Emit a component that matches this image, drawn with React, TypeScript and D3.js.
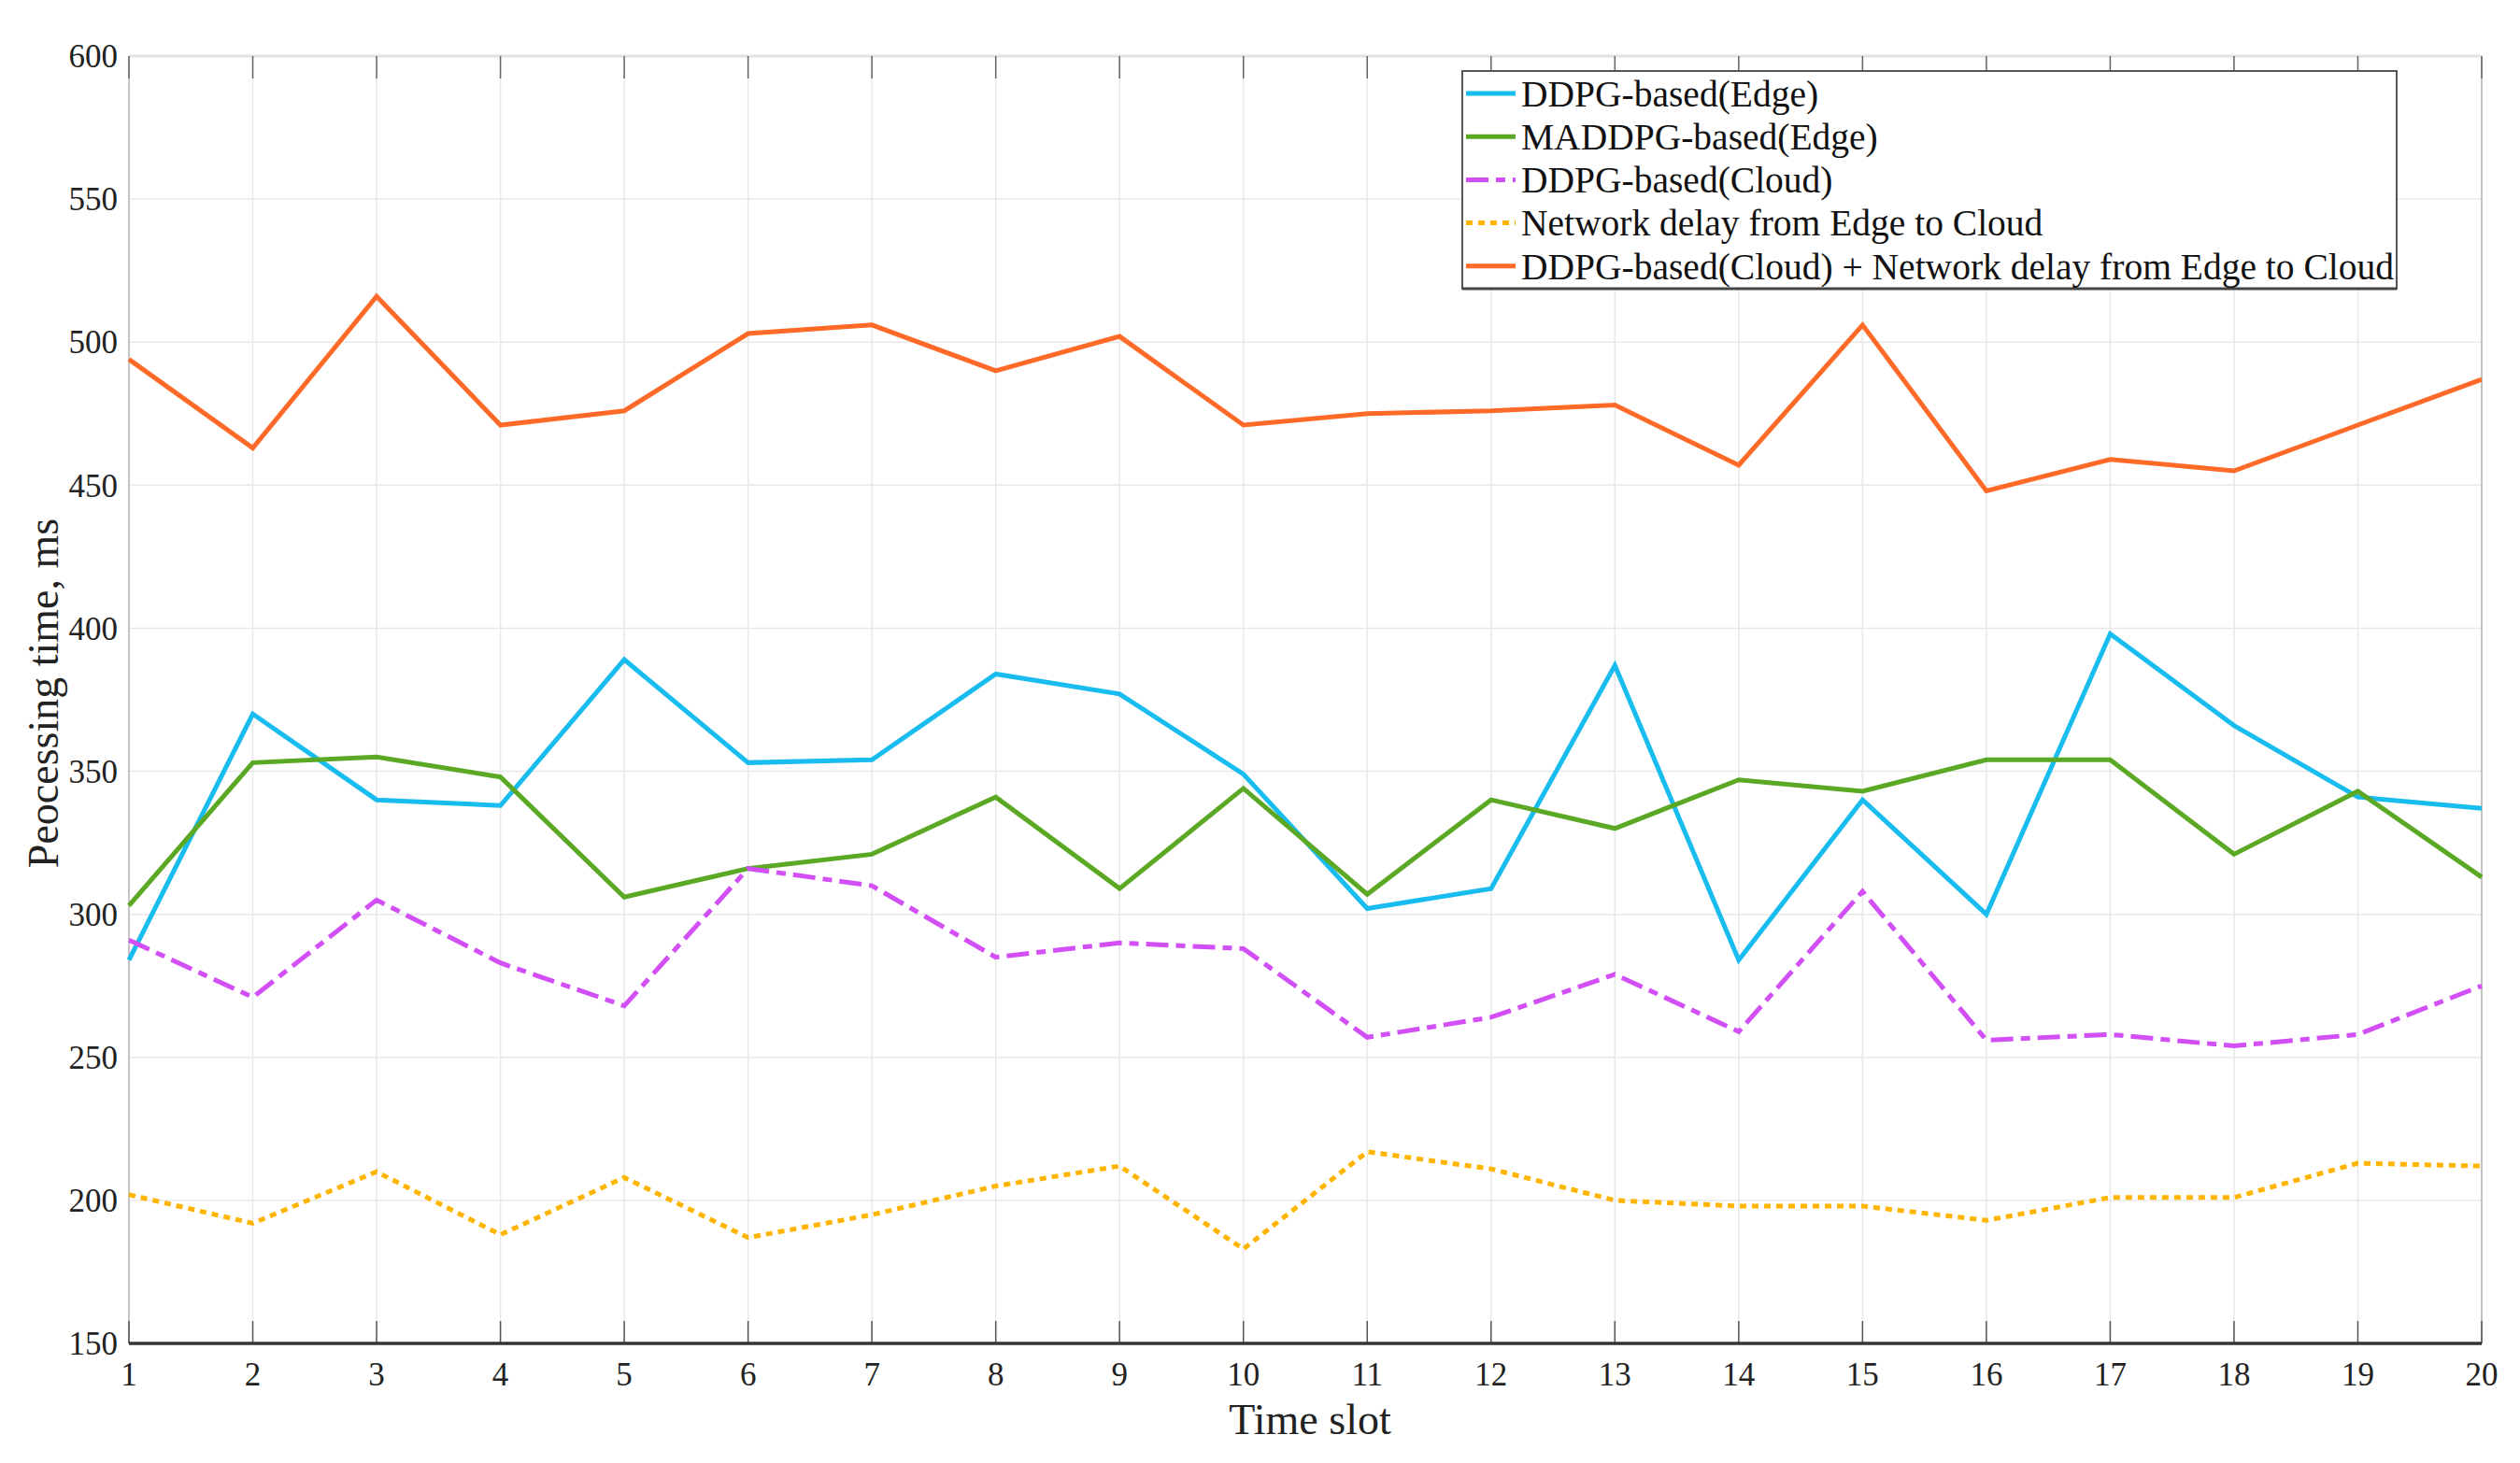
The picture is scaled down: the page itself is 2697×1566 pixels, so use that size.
import React from "react";
import * as d3 from "d3";

const timeSlots = d3.range(1, 21);
const yTicks = [150, 200, 250, 300, 350, 400, 450, 500, 550, 600];

const ddpgEdge = [284, 370, 340, 338, 389, 353, 354, 384, 377, 349, 302, 309, 387, 284, 340, 300, 398, 366, 341, 337];
const maddpgEdge = [303, 353, 355, 348, 306, 316, 321, 341, 309, 344, 307, 340, 330, 347, 343, 354, 354, 321, 343, 313];
const ddpgCloud = [291, 271, 305, 283, 268, 316, 310, 285, 290, 288, 257, 264, 279, 259, 308, 256, 258, 254, 258, 275];
const networkDelay = [202, 192, 210, 188, 208, 187, 195, 205, 212, 183, 217, 211, 200, 198, 198, 193, 201, 201, 213, 212];
const cloudPlusDelay = [494, 463, 516, 471, 476, 503, 506, 490, 502, 471, 475, 476, 478, 457, 506, 448, 459, 455, 471, 487];

const seriesNames = [
  "DDPG-based(Edge)",
  "MADDPG-based(Edge)",
  "DDPG-based(Cloud)",
  "Network delay from Edge to Cloud",
  "DDPG-based(Cloud) + Network delay from Edge to Cloud",
];

const W = 2697;
const H = 1566;
const FONT = "'Liberation Serif', 'Times New Roman', serif";

export default function App() {
  const left = 138, right = 2656, top = 60, bottom = 1438;

  const x = d3.scaleLinear().domain([1, 20]).range([left, right]);
  const y = d3.scaleLinear().domain([150, 600]).range([bottom, top]);

  const series = [
    { name: seriesNames[0], values: ddpgEdge, color: "#19bcef", dash: "none" },
    { name: seriesNames[1], values: maddpgEdge, color: "#5aa823", dash: "none" },
    { name: seriesNames[2], values: ddpgCloud, color: "#d24ff5", dash: "24,8,10,8" },
    { name: seriesNames[3], values: networkDelay, color: "#ffb400", dash: "7,6" },
    { name: seriesNames[4], values: cloudPlusDelay, color: "#ff6a28", dash: "none" },
  ];

  const line = d3
    .line<number>()
    .x((_, i) => x(timeSlots[i]))
    .y((d) => y(d));

  // legend placement
  const lg = { x: 1565, y: 76, w: 1000, h: 233 };
  const rowY = (i: number) => 100 + i * 46.2;

  return (
    <svg
      width={W}
      height={H}
      style={{ position: "absolute", left: 0, top: 0, background: "#fff" }}
      fontFamily={FONT}
    >
      <rect x={0} y={0} width={W} height={H} fill="#fff" />

      {/* grid */}
      {timeSlots.map((t) => (
        <line key={"gx" + t} x1={x(t)} x2={x(t)} y1={top} y2={bottom} stroke="#e8e8e8" strokeWidth={1.5} />
      ))}
      {yTicks.map((v) => (
        <line key={"gy" + v} x1={left} x2={right} y1={y(v)} y2={y(v)} stroke="#e8e8e8" strokeWidth={1.5} />
      ))}

      {/* box */}
      <line x1={left} x2={right} y1={top} y2={top} stroke="#e2e2e2" strokeWidth={3} />
      <line x1={left} x2={left} y1={top} y2={bottom} stroke="#c4c4c4" strokeWidth={2} />
      <line x1={right} x2={right} y1={top} y2={bottom} stroke="#c4c4c4" strokeWidth={2} />

      {/* x ticks top & bottom */}
      {timeSlots.map((t) => (
        <g key={"tk" + t}>
          <line x1={x(t)} x2={x(t)} y1={bottom} y2={bottom - 24} stroke="#555" strokeWidth={1.5} />
          <line x1={x(t)} x2={x(t)} y1={top} y2={top + 24} stroke="#666" strokeWidth={1.5} />
        </g>
      ))}

      {/* series */}
      {series.map((s) => (
        <path
          key={s.name}
          d={line(s.values) || ""}
          fill="none"
          stroke={s.color}
          strokeWidth={5}
          strokeDasharray={s.dash}
          strokeLinejoin="miter"
        />
      ))}

      <line x1={left} x2={right} y1={bottom} y2={bottom} stroke="#333" strokeWidth={3.5} />

      {/* tick labels */}
      {timeSlots.map((t) => (
        <text key={"xl" + t} x={x(t)} y={1483} fontSize={35} textAnchor="middle" fill="#222">
          {t}
        </text>
      ))}
      {yTicks.map((v) => (
        <text key={"yl" + v} x={126} y={y(v)} dy="0.35em" fontSize={35} textAnchor="end" fill="#222">
          {v}
        </text>
      ))}

      {/* axis titles */}
      <text x={(left + right) / 2 + 5} y={1535} fontSize={46} textAnchor="middle" fill="#222">
        Time slot
      </text>
      <text
        transform={`translate(62, ${742}) rotate(-90)`}
        fontSize={46}
        textAnchor="middle"
        fill="#222"
      >
        Peocessing time, ms
      </text>

      {/* legend */}
      <rect x={lg.x} y={lg.y} width={lg.w} height={lg.h} fill="#fff" stroke="#555" strokeWidth={2} />
      <line x1={lg.x} x2={lg.x + lg.w} y1={lg.y + lg.h} y2={lg.y + lg.h} stroke="#444" strokeWidth={3} />
      {series.map((s, i) => (
        <g key={"lg" + i}>
          <line
            x1={1569}
            x2={1622}
            y1={rowY(i)}
            y2={rowY(i)}
            stroke={s.color}
            strokeWidth={5}
            strokeDasharray={s.dash}
          />
          <text x={1628} y={rowY(i)} dy="0.35em" fontSize={39.5} fill="#111" lengthAdjust="spacingAndGlyphs"
            textLength={i === 4 ? 934 : undefined}>
            {s.name}
          </text>
        </g>
      ))}
    </svg>
  );
}
